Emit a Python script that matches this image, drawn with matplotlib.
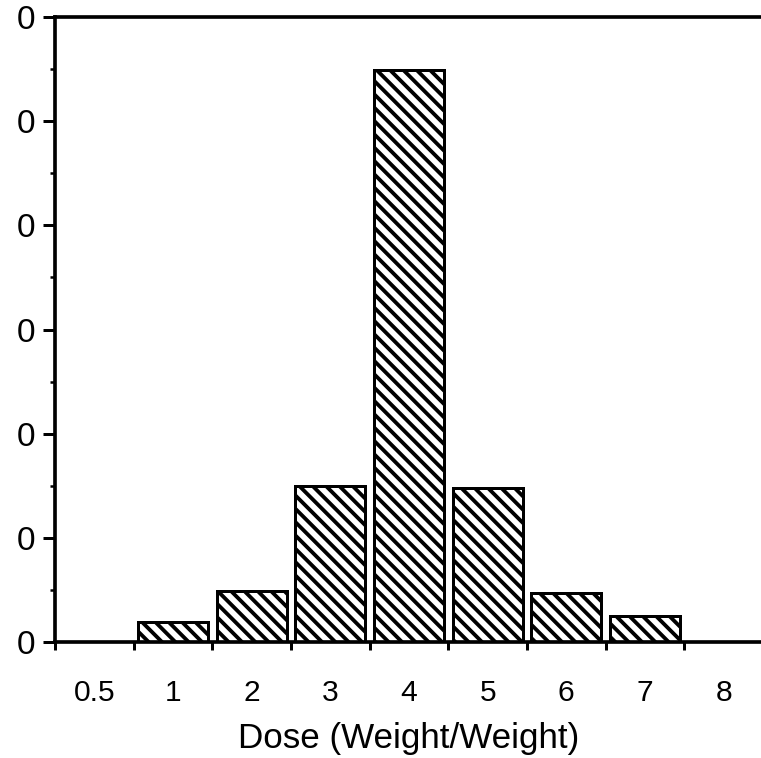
import numpy as np
import matplotlib
matplotlib.use("Agg")
import matplotlib.pyplot as plt

# datos (eje y recortado, solo se ve el ultimo digito)
dosis = ["0.5", "1", "2", "3", "4", "5", "6", "7", "8"]
valores = [0, 1.9, 4.9, 15.0, 54.9, 14.8, 4.7, 2.5, 0]
y_ticks = [0, 10, 20, 30, 40, 50, 60]
y_labels = ["0", "0", "0", "0", "0", "0", "0"]

plt.rcParams["font.family"] = ["Liberation Sans", "DejaVu Sans"]
plt.rcParams["hatch.linewidth"] = 2.3

DPI = 120
fig = plt.figure(figsize=(761 / DPI, 758 / DPI), dpi=DPI)
W, H = 761, 758
ax = fig.add_axes([55 / W, (H - 642) / H, 708 / W, 625 / H])

x = np.arange(len(dosis))
ax.bar(x, valores, width=0.89, color="white", edgecolor="black",
       linewidth=1.8, hatch="\\\\\\")

ax.set_xlim(-0.5, len(dosis) - 0.5)
ax.set_ylim(0, 60)

# etiquetas en el centro, marcas en los limites de cada categoria
ax.set_xticks(x)
ax.set_xticklabels(dosis, fontsize=18)
ax.tick_params(axis="x", which="major", length=0, pad=22)
ax.set_xticks(np.arange(len(dosis)) - 0.5, minor=True)
ax.tick_params(axis="x", which="minor", length=5, width=1.8, direction="out")

ax.set_yticks(y_ticks)
ax.set_yticklabels(y_labels, fontsize=20)
ax.set_yticks(np.arange(5, 60, 10), minor=True)
ax.tick_params(axis="y", which="major", length=7, width=1.8, pad=5)
ax.tick_params(axis="y", which="minor", length=3, width=1.5)

for lado in ["left", "bottom", "top", "right"]:
    ax.spines[lado].set_linewidth(2.2)

ax.set_xlabel("Dose (Weight/Weight)", fontsize=21, labelpad=9)

fig.savefig("out.png", dpi=DPI)
